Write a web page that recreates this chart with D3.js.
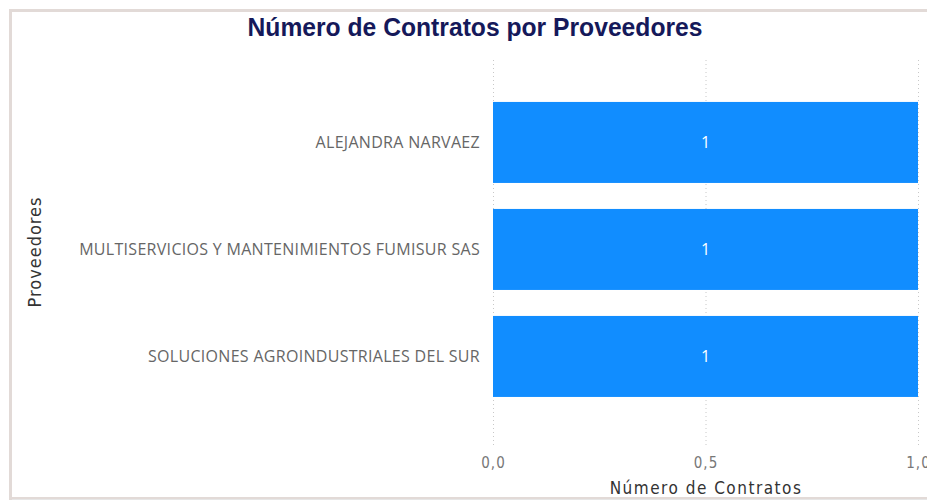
<!DOCTYPE html>
<html>
<head>
<meta charset="utf-8">
<script src="https://cdn.jsdelivr.net/npm/d3@7"></script>
<style>
  body { margin: 0; background: #fff; }
  svg { display: block; }
</style>
</head>
<body>
<div id="chart"></div>
<script>
// data
const proveedores = ["ALEJANDRA NARVAEZ", "MULTISERVICIOS Y MANTENIMIENTOS FUMISUR SAS", "SOLUCIONES AGROINDUSTRIALES DEL SUR"];
const contratos = [1, 1, 1];
const xTicks = [0, 0.5, 1];

const W = 927, H = 502;
const svg = d3.select("#chart")
              .append("svg")
              .attr("width", W)
              .attr("height", H);

// frame of the visual
svg.append("rect")
   .attr("x", 10.5).attr("y", 10.5)
   .attr("width", W).attr("height", 488)
   .attr("fill", "#fff")
   .attr("stroke", "#e2dad7")
   .attr("stroke-width", 3);
svg.append("line")
   .attr("x1", 12).attr("x2", W)
   .attr("y1", 499.5).attr("y2", 499.5)
   .attr("stroke", "#e6e6e6");

const xScale = d3.scaleLinear()
                 .domain([0, 1])
                 .range([493, 918]);
const yScale = d3.scaleBand()
                 .domain(proveedores)
                 .range([64.5, 434.4])
                 .paddingInner(0.243)
                 .paddingOuter(0.35);

// grid
svg.append("g")
   .selectAll("line")
   .data(xTicks)
   .join("line")
   .attr("x1", d => xScale(d) + 0.5)
   .attr("x2", d => xScale(d) + 0.5)
   .attr("y1", 60)
   .attr("y2", 448)
   .attr("stroke", "#c8c8c8")
   .attr("stroke-dasharray", "1,3");

// bars
svg.append("g")
   .selectAll("rect")
   .data(contratos)
   .join("rect")
   .attr("x", xScale(0))
   .attr("y", (d, i) => yScale(proveedores[i]))
   .attr("width", d => xScale(d) - xScale(0))
   .attr("height", yScale.bandwidth())
   .attr("fill", "#118dff");

// value labels
svg.append("g")
   .selectAll("text")
   .data(contratos)
   .join("text")
   .attr("x", d => (xScale(0) + xScale(d)) / 2)
   .attr("y", (d, i) => yScale(proveedores[i]) + yScale.bandwidth() / 2)
   .attr("dy", "0.35em")
   .attr("text-anchor", "middle")
   .attr("fill", "#fff")
   .style("font", "16px 'Open Sans', sans-serif")
   .text(d => d);

// category labels
const yAxis = d3.axisLeft(yScale).tickSize(0).tickPadding(13);
svg.append("g")
   .attr("transform", `translate(${xScale(0)},0)`)
   .call(yAxis)
   .call(g => g.select(".domain").remove())
   .call(g => g.selectAll("text")
               .attr("fill", "#666")
               .style("font", "16px 'Open Sans', sans-serif")
               .style("letter-spacing", "0.3px"));

// x axis
const xAxis = d3.axisBottom(xScale)
                .tickValues(xTicks)
                .tickSize(0)
                .tickPadding(0)
                .tickFormat(d => d3.format(".1f")(d).replace(".", ","));
svg.append("g")
   .attr("transform", "translate(0,468)")
   .call(xAxis)
   .call(g => g.select(".domain").remove())
   .call(g => g.selectAll("text")
               .attr("dy", 0)
               .attr("y", 0)
               .attr("fill", "#777")
               .style("font", "15px 'DejaVu Sans Condensed', sans-serif")
               .style("letter-spacing", "1px"));

// titles
svg.append("text")
   .attr("x", 475)
   .attr("y", 36)
   .attr("text-anchor", "middle")
   .attr("fill", "#15195a")
   .attr("textLength", 455)
   .attr("lengthAdjust", "spacingAndGlyphs")
   .style("font", "bold 25px 'Liberation Sans Narrow', 'Liberation Sans', sans-serif")
   .text("Número de Contratos por Proveedores");

svg.append("text")
   .attr("x", 706)
   .attr("y", 494)
   .attr("text-anchor", "middle")
   .attr("fill", "#333")
   .style("font", "17px 'DejaVu Sans Condensed', sans-serif")
   .style("letter-spacing", "1.5px")
   .text("Número de Contratos");

svg.append("text")
   .attr("transform", "translate(41,252) rotate(-90)")
   .attr("text-anchor", "middle")
   .attr("fill", "#333")
   .style("font", "18px 'DejaVu Sans Condensed', sans-serif")
   .style("letter-spacing", "1px")
   .text("Proveedores");
</script>
</body>
</html>
